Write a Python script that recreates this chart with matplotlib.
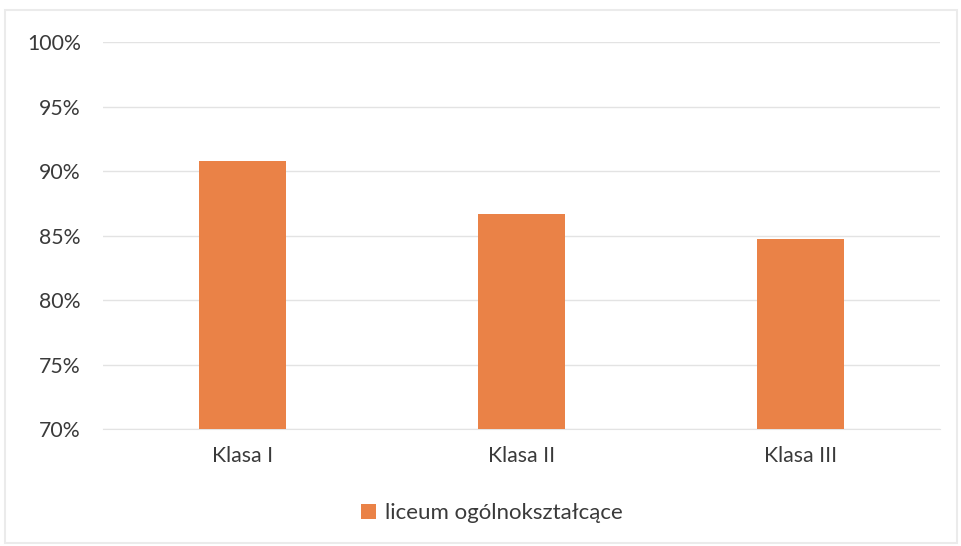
import matplotlib
matplotlib.use("Agg")
import matplotlib.pyplot as plt
from matplotlib.patches import Rectangle
from matplotlib.ticker import FuncFormatter

categories = ["Klasa I", "Klasa II", "Klasa III"]
values = [90.8, 86.7, 84.7]
series_name = "liceum ogólnokształcące"
yticks = [70, 75, 80, 85, 90, 95, 100]

plt.rcParams['font.family'] = ['Lato', 'DejaVu Sans']
text_color = "#3A3A3A"
bar_color = "#EA8247"

fig = plt.figure(figsize=(9.62, 5.46), dpi=100)
ax = fig.add_axes([103/962, 1-429/546, 837/962, 387/546])

x = range(len(categories))
ax.bar(x, values, width=0.315, color=bar_color, label=series_name, zorder=3)
ax.set_xlim(-0.5, len(categories) - 0.5)
ax.set_ylim(70, 100)
ax.set_yticks(yticks)
ax.yaxis.set_major_formatter(FuncFormatter(lambda v, p: f"{int(v)}%"))
ax.set_xticks(list(x))
ax.set_xticklabels(categories)
ax.grid(axis='y', color="#E3E3E3", linewidth=1, zorder=0)
for s in ax.spines.values():
    s.set_visible(False)
ax.spines['bottom'].set_visible(True)
ax.spines['bottom'].set_color("#E3E3E3")
ax.tick_params(axis='both', length=0, labelsize=15.3, colors=text_color)
ax.tick_params(axis='y', pad=16)
ax.tick_params(axis='x', pad=12)

leg = fig.legend(loc='center', bbox_to_anchor=(492/962, 1-513/546), frameon=False,
                 fontsize=16, handlelength=0.65, handleheight=0.65, handletextpad=0.4)
for t in leg.get_texts():
    t.set_color(text_color)

fig.patches.append(Rectangle((5/962, 0.005), 1-10/962, 1-10/546 - 0.005,
                             transform=fig.transFigure, fill=False,
                             edgecolor="#EBEBEB", linewidth=1.5))

fig.savefig("out.png", dpi=100, facecolor="white")
